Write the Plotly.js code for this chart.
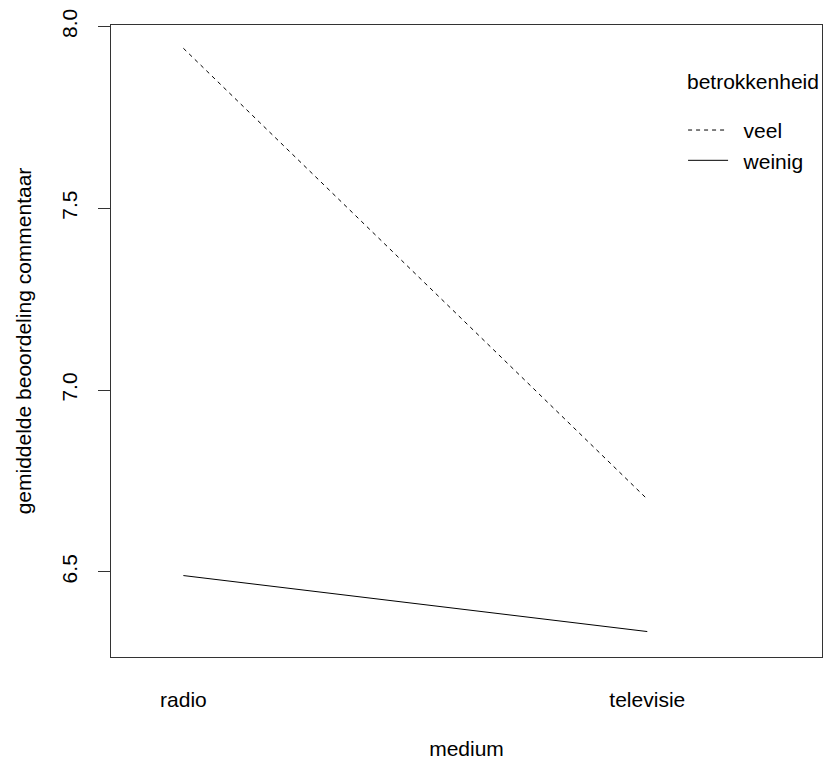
<!DOCTYPE html>
<html>
<head>
<meta charset="utf-8">
<script src="https://cdn.plot.ly/plotly-3.0.1.min.js"></script>
<style>body{margin:0;padding:0;background:#fff;} #chart{width:823px;height:760px;}</style>
</head>
<body>
<div id="chart"></div>
<script>
var categories = ['radio', 'televisie'];
var seriesNames = ['veel', 'weinig'];
var legendTitle = 'betrokkenheid';
var veel = [7.94, 6.70];
var weinig = [6.49, 6.336];
var yTicks = [6.5, 7.0, 7.5, 8.0];

var xPos = categories.map(function(c, i){ return i + 1; });
var font = {family: 'Liberation Sans, Arial, sans-serif', size: 21, color: '#000'};

var traces = [
  {x: xPos, y: veel, name: '\u2002' + seriesNames[0], type: 'scatter', mode: 'lines',
   line: {color: '#000', width: 1, dash: '4px,4px'}},
  {x: xPos, y: weinig, name: '\u2002' + seriesNames[1], type: 'scatter', mode: 'lines',
   line: {color: '#000', width: 1}}
];

var layout = {
  width: 823, height: 760,
  margin: {l: 110.5, r: 1, t: 25, b: 103},
  paper_bgcolor: '#fff', plot_bgcolor: '#fff',
  font: font,
  showlegend: true,
  legend: {
    x: 0.8046, y: 0.8657, xanchor: 'left', yanchor: 'top',
    bgcolor: 'rgba(0,0,0,0)', borderwidth: 0,
    font: font, tracegroupgap: 0, itemwidth: 40
  },
  annotations: [{
    text: legendTitle, xref: 'paper', yref: 'paper', x: 0.8075, y: 0.911,
    xanchor: 'left', yanchor: 'middle', showarrow: false, font: font
  }],
  xaxis: {
    range: [0.844, 2.3766], tickmode: 'array', tickvals: xPos, ticktext: categories,
    showgrid: false, zeroline: false, ticks: '', showline: true, mirror: true,
    linecolor: '#333', linewidth: 1, ticklabelstandoff: 24,
    title: {text: 'medium', font: font, standoff: 34},
    automargin: false
  },
  yaxis: {
    range: [6.266, 8.004], tickmode: 'array', tickvals: yTicks,
    tickformat: '.1f', tickangle: -90,
    showgrid: false, zeroline: false, ticks: 'outside', ticklen: 12, tickcolor: '#333',
    showline: true, mirror: true, linecolor: '#333', linewidth: 1,
    ticklabelstandoff: 13,
    title: {text: 'gemiddelde beoordeling commentaar', font: font, standoff: 20},
    automargin: false
  }
};

Plotly.newPlot('chart', traces, layout, {displayModeBar: false, staticPlot: true});
</script>
</body>
</html>
